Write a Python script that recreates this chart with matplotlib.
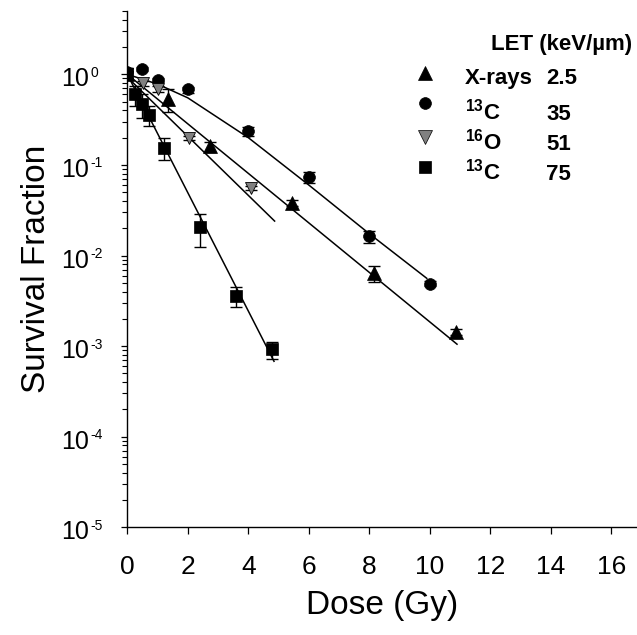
import matplotlib
matplotlib.use("Agg")
import matplotlib.pyplot as plt
from matplotlib.ticker import LogLocator, NullFormatter, FixedLocator
from matplotlib.transforms import blended_transform_factory, ScaledTranslation
import numpy as np

plt.rcParams['font.family'] = ['Liberation Sans', 'DejaVu Sans']
plt.rcParams['mathtext.fontset'] = 'custom'
plt.rcParams['mathtext.rm'] = 'Liberation Sans'
plt.rcParams['mathtext.bf'] = 'Liberation Sans:bold'
plt.rcParams['mathtext.it'] = 'Liberation Sans:italic'

# ---- data ----
xray_dose = [0, 1.36, 2.72, 5.44, 8.16, 10.88]
xray_sf = [1.0, 0.53, 0.16, 0.038, 0.0064, 0.00143]
xray_err = [0.10, 0.15, 0.02, 0.003, 0.0013, 0.0001]

c35_dose = [0, 0.5, 1.0, 2.0, 4.0, 6.0, 8.0, 10.0]
c35_sf = [1.06, 1.14, 0.87, 0.68, 0.235, 0.0735, 0.0163, 0.0049]
c35_err = [0.10, 0.05, 0.05, 0.05, 0.028, 0.010, 0.0025, 0.0003]

o51_dose = [0, 0.51, 1.02, 2.05, 4.1]
o51_sf = [1.0, 0.80, 0.69, 0.20, 0.056]
o51_err = [0.10, 0.05, 0.05, 0.01, 0.003]

c75_dose = [0, 0.24, 0.48, 0.72, 1.2, 2.4, 3.6, 4.8]
c75_sf = [1.02, 0.60, 0.47, 0.36, 0.154, 0.0205, 0.0036, 0.00092]
c75_err = [0.15, 0.15, 0.14, 0.09, 0.042, 0.008, 0.0009, 0.0002]

# fitted curves
xray_fit_dose = [0, 10.9]
xray_fit_sf = [1.0, 0.00105]
c35_fit_dose = [0, 1, 2, 4, 6, 8, 9.9]
c35_fit_sf = [1.0, 0.78, 0.55, 0.20, 0.060, 0.0174, 0.0056]
o51_fit_dose = [0, 4.87]
o51_fit_sf = [0.93, 0.024]
c75_fit_dose = [0, 4.85]
c75_fit_sf = [1.0, 0.00068]

legend_title = 'LET (keV/\u00b5m)'
legend_names = ['X-rays', r'$\mathbf{^{13}C}$', r'$\mathbf{^{16}O}$', r'$\mathbf{^{13}C}$']
legend_let = ['2.5', '35', '51', '75']

x_ticks = [0, 2, 4, 6, 8, 10, 12, 14, 16]
y_ticks = [1e-5, 1e-4, 1e-3, 1e-2, 1e-1, 1e0]
y_tick_exponents = ['-5', '-4', '-3', '-2', '-1', '0']

W, H = 637, 635
fig = plt.figure(figsize=(W / 100, H / 100), dpi=100)
ax = fig.add_axes([127.3 / W, 1 - 527.3 / H, 1 - 127.3 / W, (527.3 - 11.0) / H])

ax.set_yscale('log')
ax.set_xlim(0, 16.85)
ax.set_ylim(1e-5, 5)

styles = [
    dict(marker='^', mfc='black', mec='black'),
    dict(marker='o', mfc='black', mec='black'),
    dict(marker='v', mfc='#808080', mec='black'),
    dict(marker='s', mfc='black', mec='black'),
]
ms = [9.5, 8.5, 9, 8]
fits = [(xray_fit_dose, xray_fit_sf), (c35_fit_dose, c35_fit_sf),
        (o51_fit_dose, o51_fit_sf), (c75_fit_dose, c75_fit_sf)]
data = [(xray_dose, xray_sf, xray_err), (c35_dose, c35_sf, c35_err),
        (o51_dose, o51_sf, o51_err), (c75_dose, c75_sf, c75_err)]

for (fd, fs) in fits:
    ax.plot(fd, fs, color='black', lw=1.1, zorder=2)

for i, (d, s, e) in enumerate(data):
    st = styles[i]
    ax.errorbar(d, s, yerr=e, fmt='none', ecolor='black', elinewidth=1.0,
                capsize=4.5, capthick=1.0, zorder=3)
    ax.plot(d, s, linestyle='none', marker=st['marker'], markersize=ms[i],
            markerfacecolor=st['mfc'], markeredgecolor=st['mec'],
            markeredgewidth=0.6 if i == 2 else 0.5, zorder=4)

for side in ['top', 'right']:
    ax.spines[side].set_visible(False)
for side in ['left', 'bottom']:
    ax.spines[side].set_linewidth(1.0)

ax.xaxis.set_major_locator(FixedLocator(x_ticks))
ax.set_xticklabels([str(t) for t in x_ticks])
ax.yaxis.set_major_locator(FixedLocator(y_ticks))
ax.set_yticklabels([''] * len(y_ticks))
ax.yaxis.set_minor_locator(LogLocator(base=10, subs=np.arange(2, 10), numticks=20))
ax.yaxis.set_minor_formatter(NullFormatter())

ax.tick_params(axis='x', direction='out', length=5, width=0.9, labelsize=19, pad=15)
ax.tick_params(axis='y', which='major', direction='out', length=4.5, width=0.9)
ax.tick_params(axis='y', which='minor', direction='out', length=3.5, width=0.8)

# y tick labels: left-aligned "10" with small raised exponent
btr = blended_transform_factory(fig.transFigure, ax.transData)
for v, ex in zip(y_ticks, y_tick_exponents):
    t_main = btr + ScaledTranslation(0, -12 / 100, fig.dpi_scale_trans)
    fig.text(61 / W, v, '10', transform=t_main, fontsize=18, ha='left', va='baseline')
    t_sup = btr + ScaledTranslation(0, -2.5 / 100, fig.dpi_scale_trans)
    fig.text(90.5 / W, v, ex, transform=t_sup, fontsize=10, ha='left', va='baseline')

ax.set_xlabel('Dose (Gy)', fontsize=24, labelpad=8)
ax.set_ylabel('Survival Fraction', fontsize=24)
ax.yaxis.set_label_coords(-0.148, 0.5)

# legend drawn manually
def fx(px):
    return px / W

def fy(py):
    return 1 - py / H

fig.text(fx(491), fy(50), legend_title, fontsize=16, fontweight='bold',
         ha='left', va='baseline')
marker_y = [73.3, 103.3, 136.7, 166.7]
text_base = [84.3, 119.5, 149.7, 179.5]
leg_ms = [10, 8.5, 9.5, 8]
for i in range(4):
    st = styles[i]
    fig.lines.append(plt.Line2D([fx(425)], [fy(marker_y[i])], transform=fig.transFigure,
                                linestyle='none', marker=st['marker'], markersize=leg_ms[i],
                                markerfacecolor=st['mfc'], markeredgecolor=st['mec'],
                                markeredgewidth=0.5))
    fig.text(fx(465), fy(text_base[i]), legend_names[i], fontsize=16, fontweight='bold',
             ha='left', va='baseline')
    fig.text(fx(546), fy(text_base[i]), legend_let[i], fontsize=16,
             fontweight='bold', ha='left', va='baseline')

fig.savefig('out.png', dpi=100)
